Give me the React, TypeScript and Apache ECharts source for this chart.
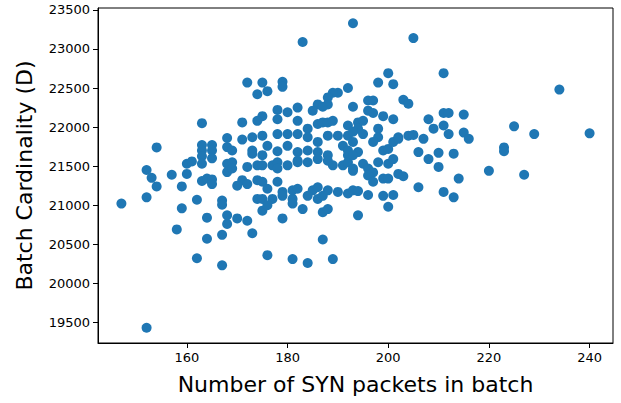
import React, { useEffect, useRef } from "react";
import * as echarts from "echarts";

// Number of SYN packets in batch (x) and batch cardinality (y)
const synPackets: number[] = [
  234, 225, 229, 240, 223, 223, 220, 227,
  193, 183, 205, 211,
  172, 175, 174, 176, 179, 179, 192, 190, 189, 188, 188, 186, 185, 187, 182, 180, 178, 193, 175, 178,
  200, 198, 201, 203, 204, 196, 197, 196, 197, 199, 201, 208, 211, 212, 215,
  163, 154, 163, 163, 163, 163, 165, 165, 165, 168, 168, 168, 168, 160, 161, 157, 160, 152, 153, 154, 159, 163, 164, 165, 165, 147, 152, 159, 162, 164, 167, 167, 168, 158, 168,
  164, 167, 162, 167, 152,
  173, 176, 181, 184, 187, 189,
  171, 174, 182, 184, 186, 187, 188, 189, 192, 171, 173, 175, 178, 180, 182, 184, 186, 188, 190, 192,
  169, 173, 173, 175, 176, 178, 180, 182, 182, 184, 186, 188, 189, 191, 192, 192,
  169, 169, 172, 174, 175, 177, 178, 178, 180, 182, 184, 186, 188, 191, 192, 193,
  171, 170, 172, 174, 175, 176, 178, 179, 181, 182, 185, 186, 188, 190, 192, 193,
  174, 175, 177, 179, 181, 184, 186, 187, 175, 176, 181, 183, 187, 188, 170, 172, 179, 194,
  194, 195, 194, 193, 195, 198, 198, 197, 199, 200, 201, 202, 202, 204, 205, 207, 209, 211, 212, 215, 216,
  193, 194, 193, 206, 208, 210, 210, 213, 195, 196, 197, 198, 200, 201,
  193, 196, 197, 199, 200, 202, 203, 206, 214, 211, 213, 194, 196, 199, 201, 200,
];

const cardinality: number[] = [
  22480, 22010, 21910, 21920, 21740, 21690, 21440, 21390,
  23330, 23090, 23140, 22690,
  22570, 22570, 22420, 22460, 22580, 22515, 22500, 22440, 22440, 22380, 22290, 22290, 22210, 22260, 22250, 22190, 22220, 22260, 22140, 22100,
  22690, 22570, 22550, 22350, 22300, 22340, 22340, 22210, 22180, 22140, 22100, 22100, 22180, 22180, 22160,
  22050, 21740, 21770, 21700, 21625, 21530, 21770, 21700, 21600, 21860, 21744, 21530, 21424, 21530, 21560, 21390, 21400, 21450, 21350, 21240, 21240, 21310, 21340, 21330, 21270, 21020, 21100, 20960, 21070, 20840, 21060, 21006, 20760, 20690, 20870,
  20570, 20620, 20320, 20230, 19430,
  20640, 20360, 20310, 20260, 20560, 20310,
  22060, 22080, 22080, 21980, 22040, 22060, 22060, 22080, 22020, 21840, 21870, 21890, 21910, 21910, 21910, 21870, 21810, 21890, 21890, 21890,
  21700, 21700, 21660, 21640, 21760, 21690, 21760, 21680, 21570, 21700, 21680, 21640, 21510, 21760, 21640, 21700,
  21550, 21470, 21490, 21510, 21510, 21510, 21550, 21470, 21510, 21550, 21550, 21590, 21570, 21510, 21550, 21470,
  21320, 21250, 21270, 21320, 21300, 21210, 21300, 21170, 21190, 21210, 21190, 21230, 21190, 21170, 21150, 21190,
  21080, 21080, 21080, 21120, 21080, 21120, 21080, 21120, 20930, 21000, 21020, 20950, 20910, 20950, 20830, 20800, 20830, 20870,
  22060, 22080, 21980, 21940, 21910, 21980, 21870, 21810, 21700, 21720, 21810, 21850, 21870, 21890, 21900, 21850, 21980, 22020, 21910, 21930, 21850,
  21810, 21680, 21640, 21680, 21590, 21670, 21490, 21660, 21530, 21470, 21420, 21550, 21530, 21590,
  21440, 21380, 21300, 21340, 21340, 21400, 21370, 21230, 21340, 21170, 21100, 21180, 21130, 21120, 21130, 20980,
];

const xTicks: number[] = [160, 180, 200, 220, 240];
const yTicks: number[] = [19500, 20000, 20500, 21000, 21500, 22000, 22500, 23000, 23500];

const xLabel = "Number of SYN packets in batch";
const yLabel = "Batch Cardinality (D)";

export default function App() {
  const ref = useRef<HTMLDivElement>(null);

  useEffect(() => {
    if (!ref.current) return;
    const chart = echarts.init(ref.current, undefined, { renderer: "svg" });

    const n = Math.min(synPackets.length, cardinality.length);
    const points: number[][] = [];
    for (let i = 0; i < n; i++) points.push([synPackets[i], cardinality[i]]);

    const xMinD = Math.min(...synPackets);
    const xMaxD = Math.max(...synPackets);
    const yMinD = Math.min(...cardinality);
    const yMaxD = Math.max(...cardinality);
    const xPad = (xMaxD - xMinD) * 0.05;
    const yPad = (yMaxD - yMinD) * 0.05;

    const font = "DejaVu Sans";

    chart.setOption({
      animation: false,
      backgroundColor: "#ffffff",
      grid: {
        left: 98,
        right: 8,
        top: 8,
        bottom: 60,
        show: true,
        borderColor: "#000000",
        borderWidth: 1,
        backgroundColor: "transparent",
      },
      xAxis: {
        type: "value",
        min: xMinD - xPad,
        max: xMaxD + xPad,
        name: xLabel,
        nameLocation: "middle",
        nameGap: 30,
        nameTextStyle: { color: "#000", fontSize: 22, fontFamily: font },
        axisLine: { show: true, onZero: false, lineStyle: { color: "#000", width: 1 } },
        axisTick: {
          show: true,
          inside: false,
          length: 5,
          customValues: xTicks,
          lineStyle: { color: "#000", width: 1 },
        },
        axisLabel: {
          show: true,
          customValues: xTicks,
          color: "#000",
          fontSize: 13,
          fontFamily: font,
          margin: 8,
          formatter: (v: number) => String(Math.round(v)),
        },
        splitLine: { show: false },
      },
      yAxis: {
        type: "value",
        min: yMinD - yPad,
        max: yMaxD + yPad,
        name: yLabel,
        nameLocation: "middle",
        nameGap: 63,
        nameRotate: 90,
        nameTextStyle: { color: "#000", fontSize: 22, fontFamily: font },
        axisLine: { show: true, onZero: false, lineStyle: { color: "#000", width: 1 } },
        axisTick: {
          show: true,
          inside: false,
          length: 5,
          customValues: yTicks,
          lineStyle: { color: "#000", width: 1 },
        },
        axisLabel: {
          show: true,
          customValues: yTicks,
          color: "#000",
          fontSize: 13,
          fontFamily: font,
          margin: 8,
          formatter: (v: number) => String(Math.round(v)),
        },
        splitLine: { show: false },
      },
      series: [
        {
          type: "scatter",
          data: points,
          symbol: "circle",
          symbolSize: 10,
          itemStyle: { color: "#1f77b4", opacity: 1 },
          emphasis: { disabled: true },
        },
      ],
    });

    return () => {
      chart.dispose();
    };
  }, []);

  return (
    <div
      ref={ref}
      style={{ position: "fixed", left: 0, top: 0, width: 621, height: 403, background: "#fff" }}
    />
  );
}
